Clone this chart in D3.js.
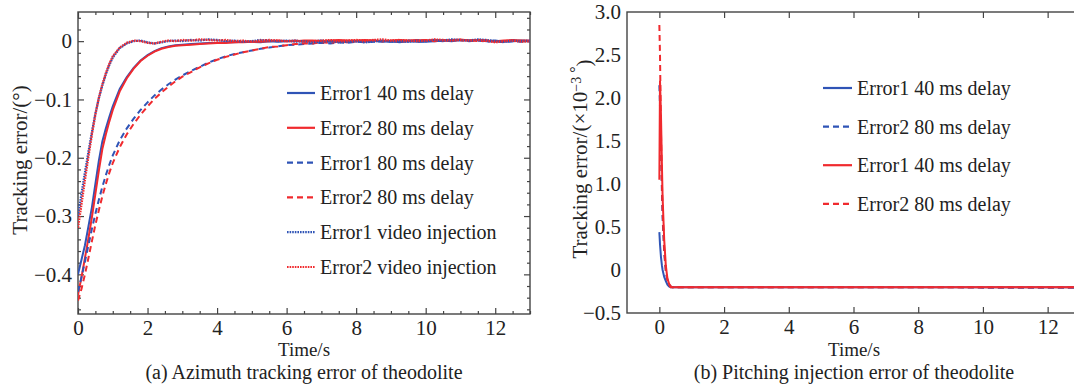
<!DOCTYPE html>
<html>
<head>
<meta charset="utf-8">
<script src="https://cdn.jsdelivr.net/npm/d3@7"></script>
<style>
  body { margin: 0; background: #fff; }
  svg text { font-family: "Liberation Serif", "Times New Roman", serif; fill: #222; }
</style>
</head>
<body>
<svg id="chart" width="1074" height="386"></svg>
<script>
// ---- data (a): azimuth tracking error, degrees ----
var timeA = [0,0.1,0.2,0.3,0.4,0.5,0.6,0.7,0.8,0.9,1.0,1.2,1.4,1.6,1.8,2.0,2.2,2.4,2.6,2.8,3.0,
  3.25,3.5,3.75,4.0,4.25,4.5,4.75,5.0,5.25,5.5,5.75,6.0,6.25,6.5,6.75,7.0,7.25,7.5,7.75,8.0,
  8.25,8.5,8.75,9.0,9.25,9.5,9.75,10.0,10.25,10.5,10.75,11.0,11.25,11.5,11.75,12.0,12.25,12.5,12.75,13.0]

var err1Delay40 = [-0.400,-0.375,-0.350,-0.318,-0.285,-0.245,-0.205,-0.172,-0.150,-0.130,-0.112,-0.082,-0.062,-0.046,-0.033,-0.024,-0.017,-0.012,-0.009,-0.007,-0.006,
  -0.005,-0.004,-0.003,-0.003,-0.002,-0.002,-0.001,-0.001,-0.002,0.000,-0.001,0.000,0.001,-0.001,0.000,0.001,-0.001,0.000,-0.002,0.000,
  -0.001,0.001,-0.001,0.000,-0.002,0.000,-0.001,-0.001,0.000,0.001,0.000,0.002,0.001,0.002,0.000,0.001,-0.001,0.000,0.001,0.000]

var err2Delay40 = [-0.435,-0.405,-0.372,-0.338,-0.302,-0.262,-0.222,-0.185,-0.160,-0.138,-0.118,-0.086,-0.064,-0.047,-0.034,-0.025,-0.018,-0.013,-0.010,-0.008,-0.007,
  -0.006,-0.005,-0.004,-0.003,-0.003,-0.002,-0.002,-0.001,-0.001,0.000,0.001,0.000,0.000,0.001,0.001,0.000,0.001,0.002,0.001,0.001,
  0.002,0.001,0.000,0.001,0.002,0.001,0.002,0.001,0.002,0.001,0.002,0.003,0.001,0.002,0.001,0.000,0.001,0.002,0.001,0.001]

var err1Delay80 = [-0.430,-0.405,-0.378,-0.350,-0.322,-0.296,-0.272,-0.250,-0.230,-0.212,-0.196,-0.170,-0.150,-0.133,-0.118,-0.105,-0.093,-0.083,-0.074,-0.066,-0.059,
  -0.051,-0.044,-0.037,-0.031,-0.026,-0.022,-0.019,-0.016,-0.013,-0.011,-0.009,-0.007,-0.006,-0.005,-0.004,-0.003,-0.004,-0.002,-0.003,-0.001,
  -0.002,-0.001,0.000,-0.001,0.000,0.001,-0.001,0.000,0.001,0.000,0.001,0.002,0.000,0.001,-0.001,0.000,-0.002,0.000,-0.001,0.000]

var err2Delay80 = [-0.445,-0.425,-0.400,-0.372,-0.343,-0.315,-0.290,-0.266,-0.245,-0.226,-0.209,-0.182,-0.160,-0.142,-0.126,-0.112,-0.099,-0.088,-0.078,-0.069,-0.061,
  -0.053,-0.045,-0.038,-0.032,-0.027,-0.023,-0.019,-0.016,-0.013,-0.010,-0.009,-0.007,-0.005,-0.004,-0.004,-0.002,-0.003,-0.001,-0.002,0.000,
  -0.001,0.001,0.000,0.001,-0.001,0.000,0.001,0.002,0.000,0.001,0.002,0.001,0.002,0.000,0.001,-0.001,0.000,0.001,0.000,0.001]

var err1Video = [-0.300,-0.262,-0.225,-0.190,-0.156,-0.124,-0.098,-0.076,-0.057,-0.041,-0.028,-0.012,-0.004,0.000,0.001,-0.002,-0.004,-0.002,0.000,0.001,0.000,
  0.002,0.001,0.003,0.002,0.000,0.001,-0.001,0.000,0.002,0.001,0.000,0.001,-0.001,0.000,-0.002,-0.001,0.000,-0.002,-0.001,0.000,
  -0.002,-0.001,0.001,-0.001,0.000,-0.001,0.001,0.000,0.002,0.001,0.003,0.002,0.001,0.003,0.002,0.000,-0.001,0.001,0.000,0.001]

var err2Video = [-0.320,-0.280,-0.238,-0.198,-0.160,-0.126,-0.097,-0.074,-0.055,-0.039,-0.026,-0.011,-0.003,0.001,0.000,-0.003,-0.004,-0.001,0.001,0.000,0.002,
  0.001,0.003,0.002,0.001,0.002,0.000,0.001,-0.001,0.001,0.002,0.001,0.000,0.001,-0.001,0.000,0.001,0.002,0.000,0.001,0.002,
  0.001,0.002,0.003,0.001,0.002,0.001,0.000,0.001,0.003,0.002,0.001,0.002,0.001,0.002,0.001,-0.002,0.000,0.001,-0.001,0.000]

// ---- data (b): pitching injection error, x10^-3 degrees ----
var timeB = [0,0.02,0.05,0.08,0.1,0.15,0.2,0.25,0.3,0.35,0.4,0.5,1,2,3,4,5,6,7,8,9,10,11,12,13]
var pitch1Delay40 = [0.44,0.30,0.15,0.05,0.00,-0.08,-0.13,-0.17,-0.19,-0.20,-0.20,-0.20,-0.20,-0.20,-0.20,-0.20,-0.20,-0.20,-0.20,-0.20,-0.20,-0.20,-0.20,-0.20,-0.20]
var pitch2Delay80 = [2.15,1.90,1.40,0.90,0.60,0.20,-0.02,-0.12,-0.17,-0.19,-0.20,-0.20,-0.20,-0.20,-0.20,-0.20,-0.20,-0.20,-0.20,-0.20,-0.20,-0.205,-0.205,-0.205,-0.205]
var pitch1Red40 = [1.05,2.20,1.80,1.20,0.85,0.35,0.05,-0.10,-0.16,-0.19,-0.20,-0.20,-0.20,-0.20,-0.20,-0.20,-0.20,-0.20,-0.20,-0.20,-0.20,-0.20,-0.20,-0.20,-0.20]
var pitch2Red80 = [2.85,2.50,1.60,1.00,0.70,0.25,0.00,-0.12,-0.17,-0.20,-0.20,-0.20,-0.20,-0.20,-0.20,-0.20,-0.20,-0.20,-0.20,-0.20,-0.20,-0.20,-0.20,-0.20,-0.20]

var xTicksA = [0,2,4,6,8,10,12]
var yTicksA = [0,-0.1,-0.2,-0.3,-0.4]
var xTicksB = [0,2,4,6,8,10,12]
var yTicksB = [3.0,2.5,2.0,1.5,1.0,0.5,0,-0.5]

var legendA = ["Error1 40 ms delay","Error2 80 ms delay","Error1 80 ms delay","Error2 80 ms delay","Error1 video injection","Error2 video injection"]
var legendB = ["Error1 40 ms delay","Error2 80 ms delay","Error1 40 ms delay","Error2 80 ms delay"]

var BLUE = "#2f54b6", RED = "#f02a2e"
var dashes = { solid: null, dashed: "6,4", dotted: "1.6,1" }

var seriesA = [
  { v: err1Delay40, color: BLUE, style: "solid" },
  { v: err2Delay40, color: RED, style: "solid" },
  { v: err1Delay80, color: BLUE, style: "dashed" },
  { v: err2Delay80, color: RED, style: "dashed" },
  { v: err1Video, color: BLUE, style: "dotted" },
  { v: err2Video, color: RED, style: "dotted" }
]
var seriesB = [
  { v: pitch1Delay40, color: BLUE, style: "solid" },
  { v: pitch2Delay80, color: BLUE, style: "dashed" },
  { v: pitch1Red40, color: RED, style: "solid" },
  { v: pitch2Red80, color: RED, style: "dashed" }
]

var svg = d3.select("#chart")
var fmt = function(d){ return d === 0 ? "0" : d3.format(".1f")(d) }

function makePanel(o){
  var g = svg.append("g")
  var x = d3.scaleLinear().domain(o.xDomain).range([o.left, o.right])
  var y = d3.scaleLinear().domain(o.yDomain).range([o.bottom, o.top])
  var clipId = "clip" + o.name

  svg.append("clipPath").attr("id", clipId)
    .append("rect")
    .attr("x", o.left).attr("y", o.top)
    .attr("width", o.right - o.left).attr("height", o.bottom - o.top)

  // minor ticks
  if (o.xMinor) {
    g.append("g").attr("transform", "translate(0," + o.bottom + ")")
      .call(d3.axisBottom(x).tickValues(o.xMinor).tickSize(-3).tickFormat(""))
    g.append("g").attr("transform", "translate(0," + o.top + ")")
      .call(d3.axisTop(x).tickValues(o.xMinor).tickSize(-3).tickFormat(""))
  }
  if (o.yMinor) {
    g.append("g").attr("transform", "translate(" + o.left + ",0)")
      .call(d3.axisLeft(y).tickValues(o.yMinor).tickSize(-3).tickFormat(""))
    g.append("g").attr("transform", "translate(" + o.right + ",0)")
      .call(d3.axisRight(y).tickValues(o.yMinor).tickSize(-3).tickFormat(""))
  }

  // major ticks and labels
  g.append("g").attr("class", "xlab").attr("transform", "translate(0," + o.bottom + ")")
    .call(d3.axisBottom(x).tickValues(o.xTicks).tickSize(-6).tickPadding(6).tickFormat(d3.format("d")))
  g.append("g").attr("transform", "translate(0," + o.top + ")")
    .call(d3.axisTop(x).tickValues(o.xTicks).tickSize(-6).tickFormat(""))
  g.append("g").attr("class", "ylab").attr("transform", "translate(" + o.left + ",0)")
    .call(d3.axisLeft(y).tickValues(o.yTicks).tickSize(o.yLeftTicks ? -6 : 0).tickPadding(6).tickFormat(fmt))
  g.append("g").attr("transform", "translate(" + o.right + ",0)")
    .call(d3.axisRight(y).tickValues(o.yTicks).tickSize(-6).tickFormat(""))

  g.selectAll(".domain").remove()
  g.selectAll(".tick line").attr("stroke", "#444").attr("stroke-width", 1.2)
  g.selectAll(".xlab text, .ylab text")
    .style("font-family", "Liberation Serif, serif").style("font-size", "21px").attr("fill", "#222")
  g.selectAll(".xlab text").attr("dy", "0.71em")

  // frame
  g.append("rect")
    .attr("x", o.left).attr("y", o.top)
    .attr("width", o.right - o.left).attr("height", o.bottom - o.top)
    .attr("fill", "none").attr("stroke", "#444").attr("stroke-width", 1.4)

  // curves
  var lines = g.append("g").attr("clip-path", "url(#" + clipId + ")")
  o.series.forEach(function(s){
    var line = d3.line()
      .x(function(d, i){ return x(o.time[i]) })
      .y(function(d){ return y(d) })
    lines.append("path")
      .datum(s.v)
      .attr("d", line)
      .attr("fill", "none")
      .attr("stroke", s.color)
      .attr("stroke-width", s.style === "dotted" ? 2.3 : 2)
      .attr("stroke-dasharray", dashes[s.style])
  })

  // legend
  var lg = g.append("g")
  o.legend.forEach(function(label, i){
    var s = o.series[i]
    var yy = o.legendY + i * o.legendGap
    lg.append("line")
      .attr("x1", o.legendX).attr("x2", o.legendX + o.legendLen)
      .attr("y1", yy).attr("y2", yy)
      .attr("stroke", s.color).attr("stroke-width", 2.2)
      .attr("stroke-dasharray", dashes[s.style])
    lg.append("text")
      .attr("x", o.legendX + o.legendLen + 5).attr("y", yy)
      .attr("dy", "0.35em")
      .style("font-size", "20px")
      .text(label)
  })

  // axis title and caption
  g.append("text").attr("x", o.captionX).attr("y", 356)
    .attr("text-anchor", "middle").style("font-size", "19px").text("Time/s")
  g.append("text").attr("x", o.captionX).attr("y", 379)
    .attr("text-anchor", "middle").style("font-size", "20px").text(o.caption)

  return { g: g, x: x, y: y }
}

var minorXA = d3.range(0, 13.01, 0.5).filter(function(d){ return d % 2 !== 0 })
var minorYA = d3.range(-46, 5, 2).map(function(d){ return d / 100 }).filter(function(d){ return Math.round(d * 100) % 10 !== 0 })

makePanel({
  name: "A", left: 78, right: 530, top: 12, bottom: 314,
  xDomain: [0, 13], yDomain: [-0.468, 0.05],
  xTicks: xTicksA, yTicks: yTicksA, xMinor: minorXA, yMinor: minorYA, yLeftTicks: true,
  time: timeA, series: seriesA,
  legend: legendA, legendX: 287, legendLen: 28, legendY: 93, legendGap: 34.8,
  captionX: 304, caption: "(a) Azimuth tracking error of theodolite"
})

makePanel({
  name: "B", left: 627, right: 1080, top: 12, bottom: 313,
  xDomain: [-1, 13], yDomain: [-0.5, 3.0],
  xTicks: xTicksB, yTicks: yTicksB, yLeftTicks: false,
  time: timeB, series: seriesB,
  legend: legendB, legendX: 823, legendLen: 29, legendY: 88, legendGap: 38.6,
  captionX: 854, caption: "(b) Pitching injection error of theodolite"
})

// y axis titles
svg.append("text")
  .attr("transform", "translate(20,160) rotate(-90)")
  .attr("text-anchor", "middle").attr("dy", "0.35em")
  .style("font-size", "21px")
  .text("Tracking error/(°)")

var yt = svg.append("text")
  .attr("transform", "translate(580,159) rotate(-90)")
  .attr("text-anchor", "middle").attr("dy", "0.35em")
  .style("font-size", "21px")
yt.append("tspan").text("Tracking error/(×10")
yt.append("tspan").attr("dy", "-0.45em").style("font-size", "14px").text("−3")
yt.append("tspan").style("font-size", "16px").text(" °")
yt.append("tspan").attr("dy", "0.45em").text(")")
</script>
</body>
</html>
